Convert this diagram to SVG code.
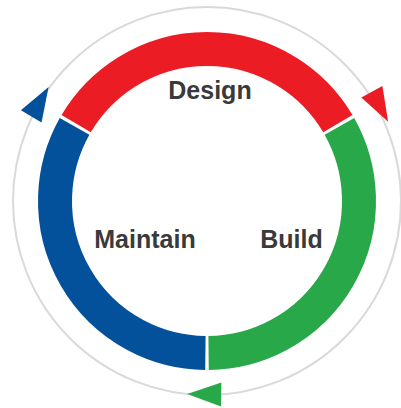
<svg xmlns="http://www.w3.org/2000/svg" width="401" height="408" viewBox="0 0 401 408">
  <style>
    .seg { fill: none; stroke-width: 34; stroke-linecap: butt; }
    .label { font-family: "Liberation Sans", Arial, sans-serif; font-weight: bold; font-size: 25px; fill: #3a3a3a; text-anchor: middle; }
    .cycle { fill: none; stroke: #d9d9d9; stroke-width: 2; }
  </style>
  <defs>
    <polygon id="arrowhead" points="17,0 -17,12 -17,-12"/>
  </defs>
  <rect width="401" height="408" fill="#ffffff"/>
  <g id="connectors">
    <circle class="cycle" cx="207" cy="201" r="194"/>
    <use href="#arrowhead" fill="#ec1c24" transform="translate(380,106.7) rotate(61.4)"/>
    <use href="#arrowhead" fill="#29a84a" transform="translate(204.2,394.2) rotate(180.8)"/>
    <use href="#arrowhead" fill="#04519b" transform="translate(39.9,101.7) rotate(-59.3)"/>
  </g>
  <g id="design">
    <path class="seg" stroke="#ec1c24" d="M 76.17 123.63 A 152 152 0 0 1 337.83 123.63"/>
    <text class="label" x="210" y="99">Design</text>
  </g>
  <g id="build">
    <path class="seg" stroke="#29a84a" d="M 339.42 126.38 A 152 152 0 0 1 208.59 352.99"/>
    <text class="label" x="291.5" y="248">Build</text>
  </g>
  <g id="maintain">
    <path class="seg" stroke="#04519b" d="M 205.41 352.99 A 152 152 0 0 1 74.58 126.38"/>
    <text class="label" x="145" y="248">Maintain</text>
  </g>
</svg>
